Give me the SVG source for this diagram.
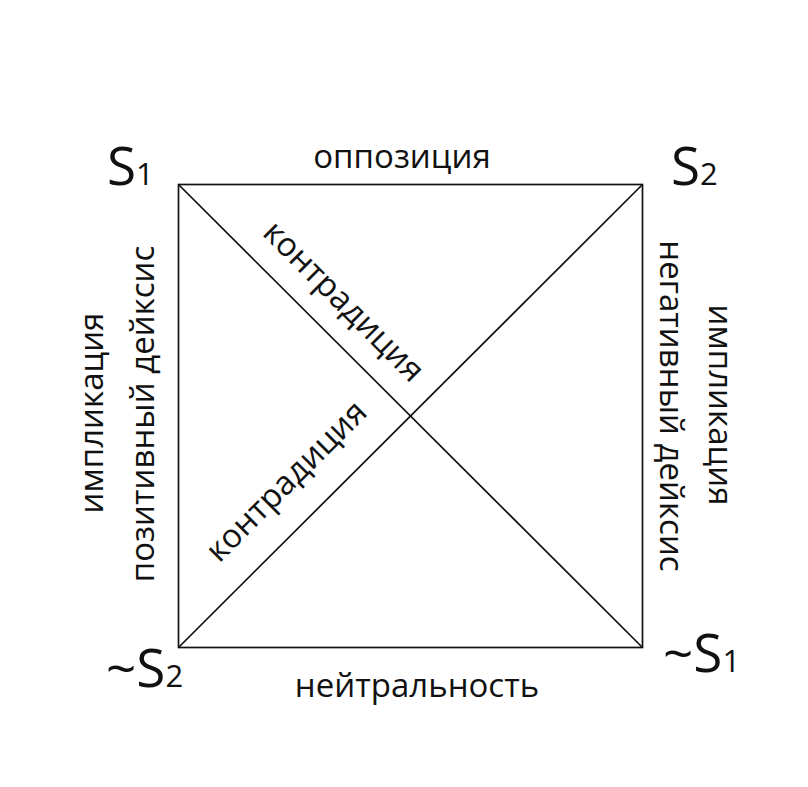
<svg xmlns="http://www.w3.org/2000/svg" width="808" height="787" viewBox="0 0 808 787">
<style>
.t{font-family:"Open Sans","Noto Sans","DejaVu Sans",sans-serif;fill:#111;font-size:33px}
.big{font-size:53px}
.sub{font-size:31px}
.ln{stroke:#111;stroke-width:1.7;fill:none}
</style>
<rect width="808" height="787" fill="#fff"/>
<g id="connectors">
<rect class="ln" x="178.5" y="184.5" width="464" height="463"/>
<line class="ln" x1="178.5" y1="184.5" x2="642.5" y2="647.5"/>
<line class="ln" x1="178.5" y1="647.5" x2="642.5" y2="184.5"/>
</g>
<g id="node-s1"><text class="t big" x="107" y="185">S<tspan class="sub">1</tspan></text></g>
<g id="node-s2"><text class="t big" x="671" y="185">S<tspan class="sub">2</tspan></text></g>
<g id="node-not-s2"><text class="t big" x="106" y="687">~S<tspan class="sub">2</tspan></text></g>
<g id="node-not-s1"><text class="t big" x="663" y="672">~S<tspan class="sub">1</tspan></text></g>
<g id="label-top"><text class="t" x="402" y="168" text-anchor="middle">оппозиция</text></g>
<g id="label-bottom"><text class="t" x="417" y="697" text-anchor="middle">нейтральность</text></g>
<g id="label-left"><text class="t" transform="translate(103,413) rotate(-90)" text-anchor="middle">импликация</text>
<text class="t" transform="translate(154,414) rotate(-90)" text-anchor="middle">позитивный дейксис</text></g>
<g id="label-right"><text class="t" transform="translate(660,406) rotate(90)" text-anchor="middle">негативный дейксис</text>
<text class="t" transform="translate(709,405) rotate(90)" text-anchor="middle">импликация</text></g>
<g id="label-diag1"><text class="t" transform="translate(336,309) rotate(45)" text-anchor="middle">контрадиция</text></g>
<g id="label-diag2"><text class="t" transform="translate(294,489) rotate(-45)" text-anchor="middle">контрадиция</text></g>
</svg>
